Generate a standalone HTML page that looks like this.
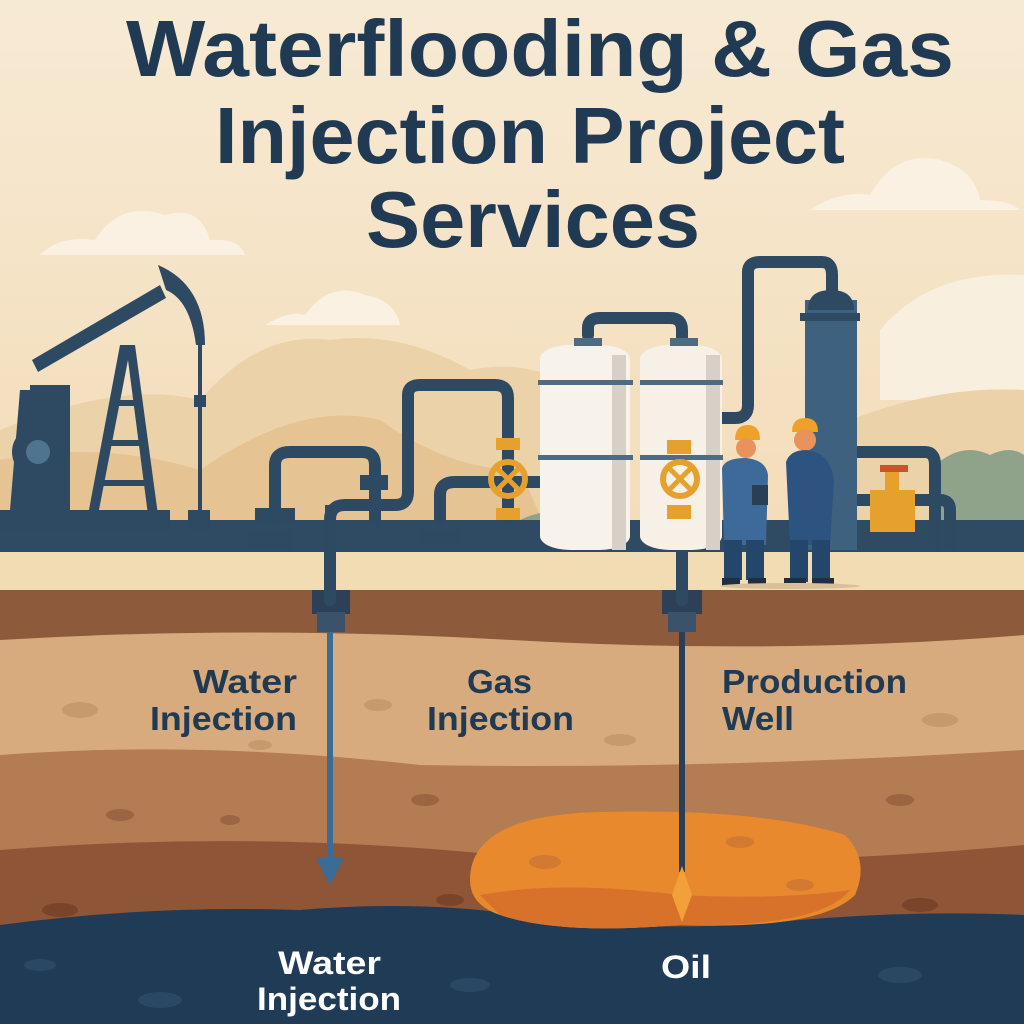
<!DOCTYPE html>
<html><head><style>
html,body{margin:0;padding:0;width:1024px;height:1024px;overflow:hidden;background:#f6e8d0}
svg{display:block}
text{font-family:"Liberation Sans",sans-serif;font-weight:bold}
</style></head><body>
<svg width="1024" height="1024" viewBox="0 0 1024 1024" xmlns="http://www.w3.org/2000/svg">
<defs>
<linearGradient id="sky" x1="0" y1="0" x2="0" y2="1">
<stop offset="0" stop-color="#f7ead4"/><stop offset="1" stop-color="#f3dcb8"/>
</linearGradient>
</defs>
<rect width="1024" height="560" fill="url(#sky)"/>
<!-- clouds -->
<path d="M40 255 Q60 235 95 240 Q120 200 165 215 Q200 205 210 240 Q240 238 245 255 Z" fill="#faf1e2"/>
<path d="M265 325 Q290 310 305 315 Q330 280 365 295 Q395 300 400 325 Z" fill="#faf1e2"/>
<path d="M810 210 Q840 190 870 195 Q895 150 940 160 Q975 170 980 200 Q1010 200 1020 210 Z" fill="#faf1e2"/>
<path d="M880 330 Q930 270 1024 275 L1024 400 L880 400 Z" fill="#f9efdf"/>
<!-- hills -->
<path d="M0 430 Q120 380 200 400 Q260 330 330 340 Q400 330 470 370 Q520 360 560 380 L560 560 L0 560 Z" fill="#ecd2a8"/>
<path d="M0 460 Q100 440 200 470 Q300 400 380 420 Q450 470 520 470 L560 560 L0 560 Z" fill="#e5c393"/>
<path d="M850 420 Q940 385 1024 390 L1024 560 L850 560 Z" fill="#ecd2a8"/>
<path d="M930 470 Q960 440 990 455 Q1010 445 1024 455 L1024 560 L930 560 Z" fill="#8fa28a"/>
<path d="M520 520 Q560 500 600 530 L600 555 L520 555 Z" fill="#8fa28a"/>
<!-- surface -->
<rect y="520" width="1024" height="32" fill="#2f4a63"/>
<rect y="552" width="1024" height="40" fill="#f2dcb3"/>
<!-- subsurface layers -->
<rect y="590" width="1024" height="60" fill="#8d5a3b"/>
<path d="M0 640 Q250 625 512 640 Q780 655 1024 635 L1024 780 L0 780 Z" fill="#d7ab7d"/>
<path d="M0 755 Q200 740 420 765 Q700 770 1024 750 L1024 880 L0 880 Z" fill="#b37c52"/>
<path d="M0 850 Q250 830 500 855 Q760 870 1024 845 L1024 960 L0 960 Z" fill="#8f5537"/>
<path d="M0 925 Q150 905 300 910 Q420 900 520 915 Q650 935 800 920 Q920 910 1024 915 L1024 1024 L0 1024 Z" fill="#203b55"/>
<!-- pebbles -->
<g fill="#c69a6c"><ellipse cx="80" cy="710" rx="18" ry="8"/><ellipse cx="378" cy="705" rx="14" ry="6"/><ellipse cx="620" cy="740" rx="16" ry="6"/><ellipse cx="940" cy="720" rx="18" ry="7"/><ellipse cx="260" cy="745" rx="12" ry="5"/></g>
<g fill="#9b6543"><ellipse cx="120" cy="815" rx="14" ry="6"/><ellipse cx="425" cy="800" rx="14" ry="6"/><ellipse cx="900" cy="800" rx="14" ry="6"/><ellipse cx="230" cy="820" rx="10" ry="5"/></g>
<g fill="#7a442b"><ellipse cx="60" cy="910" rx="18" ry="7"/><ellipse cx="450" cy="900" rx="14" ry="6"/><ellipse cx="920" cy="905" rx="18" ry="7"/></g>
<g fill="#2a4864"><ellipse cx="160" cy="1000" rx="22" ry="8"/><ellipse cx="470" cy="985" rx="20" ry="7"/><ellipse cx="900" cy="975" rx="22" ry="8"/><ellipse cx="40" cy="965" rx="16" ry="6"/></g>
<!-- oil -->
<path d="M470 880 Q470 815 600 812 Q760 808 845 835 Q870 860 855 895 Q820 930 680 925 Q560 935 500 915 Q470 905 470 880 Z" fill="#e8892d"/>
<path d="M480 895 Q560 880 680 895 Q780 900 850 890 Q820 928 680 925 Q560 935 500 915 Z" fill="#d8722a"/>
<g fill="#d27a32"><ellipse cx="545" cy="862" rx="16" ry="7"/><ellipse cx="740" cy="842" rx="14" ry="6"/><ellipse cx="800" cy="885" rx="14" ry="6"/></g>
<!-- wells -->
<rect x="325" y="505" width="10" height="95" fill="#2f4a63"/>
<rect x="312" y="590" width="38" height="24" fill="#2c4158"/><rect x="317" y="612" width="28" height="20" fill="#3a536b"/>
<rect x="327" y="632" width="6" height="230" fill="#3a6d96"/>
<path d="M316 858 L344 858 L330 885 Z" fill="#3a6d96"/>
<rect x="677" y="510" width="10" height="90" fill="#2f4a63"/>
<rect x="662" y="590" width="40" height="24" fill="#2c4158"/><rect x="668" y="612" width="28" height="20" fill="#3a536b"/>
<rect x="679" y="632" width="6" height="240" fill="#2a3f55"/>
<path d="M682 866 L692 895 L682 922 L672 895 Z" fill="#f2a03a"/>
<!-- pumpjack -->
<g fill="#2e4a62">
<rect x="0" y="510" width="170" height="20"/>
<path d="M10 510 L20 390 L70 390 L70 510 Z"/>
<circle cx="38" cy="452" r="26"/>
<rect x="30" y="385" width="40" height="12"/>
<path d="M88 515 L120 345 L135 345 L158 515 L148 515 L128 360 L98 515 Z"/>
<path d="M100 480 L150 480 L150 486 L100 486 Z M104 440 L145 440 L145 446 L104 446 Z M110 400 L140 400 L140 406 L110 406 Z"/>
<path d="M32 360 L160 285 L166 298 L38 372 Z"/>
<path d="M158 265 Q205 285 205 345 L196 345 Q190 300 166 290 Z"/>
<rect x="198" y="345" width="4" height="170"/><rect x="194" y="395" width="12" height="12"/>
<rect x="188" y="510" width="22" height="20"/>
</g>
<circle cx="38" cy="452" r="12" fill="#4d7590"/>
<!-- pipes -->
<g fill="none" stroke="#2e4a62" stroke-width="12" stroke-linecap="round">
<path d="M275 520 L275 465 Q275 452 290 452 L362 452 Q375 452 375 465 L375 520"/>
<path d="M330 600 L330 520 Q330 505 345 505 L395 505 Q408 505 408 492 L408 395 Q408 385 420 385 L495 385 Q508 385 508 398 L508 520"/>
<path d="M440 520 L440 495 Q440 482 455 482 L565 482 Q578 482 578 495 L578 540"/>
<path d="M682 600 L682 430 Q682 418 695 418 L735 418 Q748 418 748 405 L748 272 Q748 262 760 262 L822 262 Q832 262 832 275 L832 300"/>
<path d="M588 335 L588 328 Q588 318 600 318 L670 318 Q682 318 682 330 L682 340"/>
<path d="M855 452 L925 452 Q935 452 935 465 L935 545"/>
<path d="M855 500 L940 500 Q950 500 950 510 L950 545"/>
</g>
<g fill="#2e4a62"><rect x="255" y="508" width="40" height="14"/><rect x="248" y="530" width="45" height="20"/><rect x="360" y="475" width="28" height="15"/><rect x="420" y="530" width="40" height="15"/><rect x="560" y="530" width="30" height="20"/></g>
<!-- tanks -->
<rect x="540" y="345" width="90" height="205" rx="30" ry="14" fill="#f8f3ea"/>
<rect x="640" y="345" width="82" height="205" rx="30" ry="14" fill="#f6f0e6"/>
<rect x="612" y="355" width="14" height="195" fill="#d6d0c6"/>
<rect x="706" y="355" width="14" height="195" fill="#d6d0c6"/>
<g fill="#4f6b82"><rect x="538" y="380" width="95" height="5"/><rect x="640" y="380" width="83" height="5"/><rect x="538" y="455" width="95" height="5"/><rect x="640" y="455" width="83" height="5"/>
<rect x="574" y="338" width="28" height="8"/><rect x="670" y="338" width="28" height="8"/></g>
<!-- tower -->
<rect x="805" y="300" width="52" height="250" fill="#3e6180"/>
<path d="M808 310 Q808 290 831 290 Q854 290 854 310 Z" fill="#2e4a62"/>
<rect x="800" y="313" width="60" height="8" fill="#2e4a62"/>
<!-- valves -->
<g fill="#e6a02e">
<rect x="496" y="438" width="24" height="12"/><rect x="496" y="508" width="24" height="12"/>
<rect x="667" y="440" width="24" height="14"/><rect x="667" y="505" width="24" height="14"/>
<rect x="870" y="490" width="45" height="42"/><rect x="885" y="470" width="14" height="22"/>
</g>
<circle cx="508" cy="479" r="17" fill="none" stroke="#e6a02e" stroke-width="6"/>
<circle cx="680" cy="479" r="17" fill="none" stroke="#e6a02e" stroke-width="6"/>
<path d="M498 469 L518 489 M518 469 L498 489" stroke="#e6a02e" stroke-width="5"/>
<path d="M670 469 L690 489 M690 469 L670 489" stroke="#e6a02e" stroke-width="5"/>
<rect x="880" y="465" width="28" height="7" fill="#c8552a"/>
<!-- workers -->
<g>
<path d="M735 440 Q735 425 748 425 Q760 425 760 440 Z" fill="#eea22a"/>
<circle cx="746" cy="448" r="10" fill="#e9935c"/>
<path d="M722 468 Q725 458 746 458 Q766 460 768 475 L766 545 L724 545 Z" fill="#3d6a98"/>
<rect x="724" y="540" width="18" height="40" fill="#24466a"/><rect x="746" y="540" width="18" height="40" fill="#24466a"/>
<rect x="722" y="578" width="18" height="8" fill="#1f2f3f"/><rect x="748" y="578" width="18" height="8" fill="#1f2f3f"/>
<rect x="752" y="485" width="16" height="20" fill="#2a3f55"/>
<path d="M792 432 Q792 418 805 418 Q818 418 818 432 Z" fill="#eea22a"/>
<circle cx="805" cy="440" r="11" fill="#e9935c"/>
<path d="M786 462 Q790 450 806 450 Q830 452 834 480 L830 545 L790 545 Z" fill="#2d5480"/>
<rect x="790" y="540" width="18" height="42" fill="#24466a"/><rect x="812" y="540" width="18" height="42" fill="#24466a"/>
<rect x="784" y="578" width="22" height="8" fill="#1f2f3f"/><rect x="812" y="578" width="22" height="8" fill="#1f2f3f"/>
<ellipse cx="790" cy="586" rx="70" ry="3" fill="#d9c09a"/>
</g>
<!-- title -->
<g fill="#1f3a52" font-size="80">
<text x="126" y="76" textLength="828" lengthAdjust="spacingAndGlyphs">Waterflooding &amp; Gas</text>
<text x="215" y="163" textLength="630" lengthAdjust="spacingAndGlyphs">Injection Project</text>
<text x="366" y="247" textLength="334" lengthAdjust="spacingAndGlyphs">Services</text>
</g>
<g fill="#1f3a52" font-size="33">
<text x="193" y="693" textLength="104" lengthAdjust="spacingAndGlyphs">Water</text>
<text x="150" y="730" textLength="147" lengthAdjust="spacingAndGlyphs">Injection</text>
<text x="467" y="693" textLength="65" lengthAdjust="spacingAndGlyphs">Gas</text>
<text x="427" y="730" textLength="147" lengthAdjust="spacingAndGlyphs">Injection</text>
<text x="722" y="693" textLength="185" lengthAdjust="spacingAndGlyphs">Production</text>
<text x="722" y="730" textLength="72" lengthAdjust="spacingAndGlyphs">Well</text>
</g>
<g fill="#ffffff" font-size="32">
<text x="278" y="974" textLength="103" lengthAdjust="spacingAndGlyphs">Water</text>
<text x="257" y="1010" textLength="144" lengthAdjust="spacingAndGlyphs">Injection</text>
<text x="661" y="978" textLength="50" lengthAdjust="spacingAndGlyphs">Oil</text>
</g>
</svg>
</body></html>
